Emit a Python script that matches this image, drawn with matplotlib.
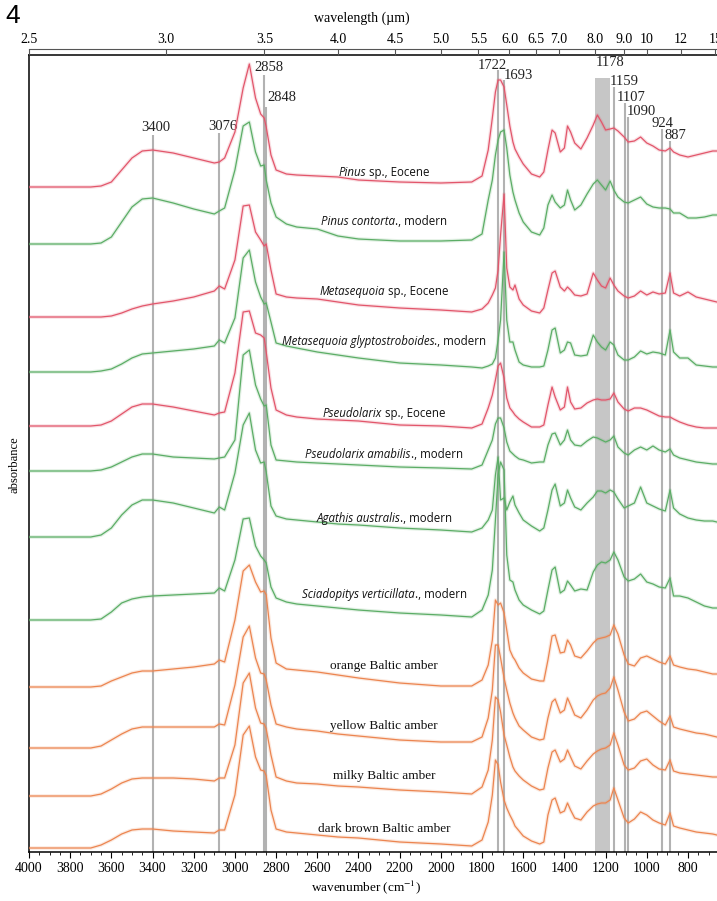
import numpy as np
import matplotlib.pyplot as plt
import matplotlib.patheffects as pe
from matplotlib.ticker import MultipleLocator

plt.rcParams['font.family'] = ['Liberation Serif', 'DejaVu Serif']
plt.rcParams['mathtext.fontset'] = 'stix'

# common wavenumber grid (cm-1) the spectra were read at
wavenumber = [4000, 3700, 3650, 3600, 3550, 3500, 3450, 3400, 3300, 3200,
              3100, 3076, 3050, 3000, 2960, 2930, 2900, 2875, 2858, 2848,
              2825, 2800, 2750, 2700, 2600, 2500, 2400, 2200, 2000, 1850,
              1800, 1770, 1750, 1735, 1722, 1710, 1693, 1680, 1665, 1650,
              1640, 1620, 1600, 1560, 1520, 1500, 1480, 1460, 1445, 1420,
              1400, 1385, 1370, 1350, 1320, 1290, 1260, 1240, 1220, 1200,
              1178, 1160, 1140, 1110, 1090, 1060, 1030, 1000, 970, 940,
              910, 887, 870, 840, 800, 760, 720, 680, 660]

# stacked absorbance (arbitrary units, offsets included)
pinus_eocene = [665, 665, 666, 670, 682, 694, 701, 702, 699, 694,
                689, 690, 694, 720, 764, 788, 754, 738, 734, 725,
                697, 682, 678, 677, 676, 675, 672, 670, 669, 670,
                676, 702, 734, 760, 772, 772, 765, 747, 726, 710,
                703, 695, 688, 678, 675, 680, 702, 722, 719, 700,
                704, 726, 720, 709, 703, 714, 727, 737, 730, 722,
                723, 724, 721, 715, 710, 711, 715, 709, 706, 702,
                701, 704, 700, 697, 695, 697, 699, 701, 701]
pinus_contorta = [608, 608, 609, 615, 630, 645, 653, 654, 649, 643,
                  638, 641, 644, 682, 726, 730, 700, 686, 687, 672,
                  649, 635, 628, 625, 623, 616, 613, 611, 611, 612,
                  618, 652, 672, 697, 712, 720, 722, 704, 677, 660,
                  652, 639, 630, 620, 617, 624, 647, 657, 650, 644,
                  647, 662, 652, 642, 647, 658, 668, 672, 667, 662,
                  671, 662, 655, 650, 649, 652, 655, 648, 645, 644,
                  644, 643, 639, 639, 634, 634, 635, 637, 637]
metasequoia_eocene = [535, 535, 535, 536, 539, 543, 546, 548, 551, 555,
                      561, 566, 563, 592, 646, 647, 620, 612, 606, 608,
                      582, 558, 555, 554, 553, 550, 547, 544, 542, 540,
                      543, 549, 557, 564, 582, 617, 658, 584, 565, 562,
                      567, 553, 547, 541, 539, 544, 562, 579, 581, 565,
                      561, 565, 562, 557, 556, 558, 579, 572, 566, 564,
                      574, 567, 561, 556, 554, 556, 561, 557, 560, 558,
                      559, 579, 559, 556, 560, 555, 553, 551, 550]
metasequoia_glypto = [480, 480, 481, 483, 488, 494, 498, 499, 501, 503,
                      506, 512, 509, 534, 594, 602, 570, 555, 548, 549,
                      530, 509, 506, 504, 500, 497, 494, 489, 487, 485,
                      484, 486, 488, 494, 512, 532, 600, 532, 510, 510,
                      502, 490, 487, 485, 485, 486, 502, 522, 524, 499,
                      502, 510, 509, 497, 496, 497, 517, 510, 505, 502,
                      510, 507, 497, 492, 492, 495, 501, 498, 500, 499,
                      497, 522, 500, 494, 494, 487, 486, 485, 485]
pseudolarix_eocene = [426, 426, 427, 431, 438, 445, 448, 448, 445, 441,
                      437, 439, 440, 479, 540, 541, 519, 517, 514, 500,
                      464, 442, 437, 435, 433, 432, 431, 427, 426, 424,
                      428, 444, 457, 472, 486, 489, 474, 454, 444, 440,
                      437, 433, 430, 425, 425, 427, 447, 465, 455, 442,
                      445, 465, 450, 443, 444, 449, 452, 453, 452, 452,
                      453, 459, 450, 443, 441, 444, 444, 442, 439, 436,
                      435, 435, 433, 430, 427, 425, 424, 424, 424]
pseudolarix_amabilis = [381, 381, 382, 385, 390, 395, 398, 398, 395, 394,
                        393, 394, 395, 412, 497, 502, 467, 453, 446, 447,
                        407, 392, 391, 390, 389, 388, 387, 385, 384, 383,
                        387, 402, 412, 428, 434, 434, 424, 410, 401, 398,
                        396, 393, 392, 389, 390, 390, 407, 418, 419, 407,
                        412, 422, 412, 407, 406, 411, 415, 414, 412, 410,
                        412, 416, 405, 399, 397, 402, 405, 402, 406, 402,
                        400, 403, 397, 394, 392, 390, 389, 388, 388]
agathis = [315, 315, 317, 324, 337, 347, 352, 352, 349, 344,
           339, 345, 342, 379, 427, 439, 402, 389, 390, 380,
           346, 336, 333, 332, 330, 328, 327, 324, 322, 320,
           324, 332, 342, 377, 395, 352, 354, 342, 350, 356,
           347, 339, 332, 326, 321, 324, 342, 362, 368, 346,
           349, 362, 354, 345, 342, 349, 355, 361, 361, 359,
           362, 360, 353, 344, 346, 349, 365, 349, 346, 343,
           341, 362, 344, 338, 334, 332, 331, 331, 330]
sciadopitys = [232, 232, 233, 240, 249, 253, 255, 256, 257, 258,
               259, 264, 261, 292, 333, 334, 306, 296, 292, 289,
               265, 254, 250, 248, 246, 244, 242, 239, 237, 235,
               242, 257, 282, 332, 377, 390, 382, 297, 272, 270,
               262, 252, 247, 242, 238, 241, 262, 282, 285, 259,
               262, 271, 267, 261, 263, 262, 280, 287, 290, 289,
               292, 300, 292, 275, 271, 273, 278, 270, 268, 265,
               264, 274, 256, 256, 254, 250, 246, 244, 244]
orange_amber = [165, 165, 166, 171, 175, 179, 181, 181, 183, 185,
                188, 192, 190, 232, 281, 287, 270, 260, 261, 257,
                214, 189, 183, 182, 180, 177, 174, 169, 166, 166,
                172, 187, 212, 252, 247, 249, 239, 222, 202, 195,
                192, 184, 179, 173, 171, 171, 192, 216, 217, 199,
                200, 212, 207, 196, 194, 201, 209, 213, 214, 215,
                217, 227, 218, 197, 188, 186, 194, 196, 193, 190,
                188, 196, 187, 185, 183, 182, 180, 178, 178]
yellow_amber = [104, 104, 106, 112, 118, 123, 125, 125, 125, 125,
                125, 128, 127, 167, 215, 226, 194, 179, 178, 172,
                147, 128, 125, 123, 121, 118, 116, 112, 110, 110,
                115, 134, 162, 207, 207, 194, 174, 162, 149, 139,
                134, 126, 122, 115, 112, 113, 134, 150, 153, 139,
                142, 154, 147, 137, 134, 142, 152, 156, 158, 159,
                164, 175, 162, 140, 131, 133, 139, 141, 136, 131,
                127, 136, 125, 123, 121, 119, 118, 116, 115]
milky_amber = [56, 56, 58, 63, 69, 73, 74, 74, 74, 73,
               71, 74, 74, 107, 169, 179, 144, 129, 128, 123,
               97, 75, 71, 69, 68, 66, 65, 62, 60, 58,
               65, 82, 112, 155, 152, 140, 117, 107, 95, 85,
               81, 76, 72, 66, 62, 63, 84, 100, 102, 90,
               93, 102, 95, 86, 83, 91, 98, 101, 103, 104,
               107, 119, 107, 87, 82, 84, 91, 93, 87, 83,
               82, 92, 81, 79, 78, 77, 76, 75, 75]
dark_brown_amber = [4, 4, 7, 12, 18, 22, 23, 23, 21, 20,
                    19, 22, 22, 57, 117, 126, 95, 82, 81, 76,
                    42, 23, 20, 19, 17, 15, 14, 10, 8, 6,
                    12, 30, 57, 92, 87, 70, 52, 44, 37, 31,
                    26, 21, 16, 11, 8, 10, 37, 52, 54, 39,
                    41, 49, 42, 34, 32, 40, 46, 48, 49, 49,
                    52, 64, 52, 34, 29, 33, 40, 37, 32, 29,
                    27, 39, 26, 24, 22, 20, 19, 18, 17]

spectra = [pinus_eocene, pinus_contorta, metasequoia_eocene, metasequoia_glypto,
           pseudolarix_eocene, pseudolarix_amabilis, agathis, sciadopitys,
           orange_amber, yellow_amber, milky_amber, dark_brown_amber]

RED, GREEN, ORANGE = '#e2566b', '#5cad66', '#ec8550'
colors = [RED, GREEN, RED, GREEN, RED, GREEN, GREEN, GREEN,
          ORANGE, ORANGE, ORANGE, ORANGE]

label_italic = ['Pinus', 'Pinus contorta', 'Metasequoia', 'Metasequoia glyptostroboides',
                'Pseudolarix', 'Pseudolarix amabilis', 'Agathis australis',
                'Sciadopitys verticillata', '', '', '', '']
label_rest = [' sp., Eocene', '., modern', ' sp., Eocene', '., modern',
              ' sp., Eocene', '., modern', '., modern', '., modern',
              'orange Baltic amber', 'yellow Baltic amber', 'milky Baltic amber',
              'dark brown Baltic amber']
label_y = [680, 631, 561, 511, 439, 398, 334, 258, 186, 126, 76, 23]
label_x = 2275

# marked bands: position, top of line, label text position
peak_wn = [3400, 3076, 2858, 2848, 1722, 1693, 1159, 1107, 1090, 924, 887]
peak_top = [717, 719, 777, 745, 782, 772, 765, 749, 735, 723, 711]
peak_text_x = [3385, 3060, 2837, 2774, 1750, 1624, 1110, 1076, 1027, 925, 862]
peak_text_y = [725, 726, 785, 755, 787, 777, 771, 755, 741, 729, 717]
band_range = (1250, 1178)
band_top = 774

wavelengths = [2.5, 3.0, 3.5, 4.0, 4.5, 5.0, 5.5, 6.0, 6.5, 7.0, 8.0, 9.0, 10, 12, 15]
wavelength_labels = ['2.5', '3.0', '3.5', '4.0', '4.5', '5.0', '5.5', '6.0', '6.5',
                     '7.0', '8.0', '9.0', '10', '12', '15']

for s in spectra:
    if len(s) != len(wavenumber):
        raise ValueError(f"length mismatch {len(s)}")

fig = plt.figure(figsize=(7.17, 9.01), dpi=100)
ax = fig.add_axes([29 / 717, 1 - 852 / 901, 1 - 29 / 717, (852 - 55) / 901])

# grey marker band and lines
ax.fill_betweenx([0, band_top], band_range[0], band_range[1], color='#c6c6c6',
                 lw=0, zorder=1)
ax.vlines(peak_wn, 0, peak_top, color='#b2b2b2', lw=1.5, zorder=1)
for wn, tx, ty in zip(peak_wn, peak_text_x, peak_text_y):
    ax.text(tx, ty, str(wn), ha='center', va='center', fontsize=10.5, color='#222222')
ax.text(band_range[1] + 2, 790, str(band_range[1]), ha='center', va='center',
        fontsize=10.5, color='#222222')

for values, c in zip(spectra, colors):
    ax.plot(wavenumber, values, color=c, lw=0.9, zorder=3,
            path_effects=[pe.Stroke(linewidth=2.6, foreground=c, alpha=0.18), pe.Normal()])

# species labels (italic genus part + plain rest), centred later
pairs = []
for it, rest, y in zip(label_italic, label_rest, label_y):
    if it:
        t1 = ax.text(label_x, y, it, style='italic', ha='left', va='bottom',
                     fontsize=8.3, family='Open Sans', color='#111111', zorder=4)
        t2 = ax.annotate(rest, xy=(1, 0), xycoords=t1, ha='left', va='bottom',
                         fontsize=8.3, family='Open Sans', color='#111111', zorder=4)
        pairs.append((t1, t2, y))
    else:
        ax.text(label_x, y, rest, ha='center', va='center', fontsize=9.5,
                color='#111111', zorder=4)

ax.set_xlim(4000, 659)
ax.set_ylim(0, 797)
ax.set_yticks([])
ax.spines['right'].set_visible(False)
for sp in ['left', 'bottom', 'top']:
    ax.spines[sp].set_linewidth(1.1)
ax.set_xticks(np.arange(800, 4001, 200))
ax.xaxis.set_minor_locator(MultipleLocator(50))
ax.tick_params(axis='x', which='major', direction='out', length=4, width=0.8,
               labelsize=10, pad=3)
ax.tick_params(axis='x', which='minor', direction='out', length=2.2, width=0.6)

# wavelength axis on top
ax_top = ax.twiny()
ax_top.set_xlim(ax.get_xlim())
ax_top.set_xticks([1e4 / w for w in wavelengths])
ax_top.set_xticklabels(wavelength_labels)
for sp in ['left', 'right', 'bottom']:
    ax_top.spines[sp].set_visible(False)
ax_top.spines['top'].set_position(('outward', 4.3))
ax_top.spines['top'].set_linewidth(0.8)
ax_top.spines['top'].set_color('#555555')
ax_top.tick_params(axis='x', direction='in', length=4.3, width=0.8, labelsize=10,
                   pad=2, color='#555555')

fig.text(362 / 717, 1 - 18 / 901, 'wavelength (\u00b5m)', ha='center', va='center',
         fontsize=10)
fig.text(366 / 717, 1 - 887 / 901, 'wavenumber (cm$^{-1}$)', ha='center', va='center',
         fontsize=9.5)
fig.text(14 / 717, 1 - 465 / 901, 'absorbance', rotation=90, ha='center', va='center',
         fontsize=9)
fig.text(5 / 717, 1 - 16 / 901, '4', ha='left', va='center', fontsize=19,
         family='Liberation Sans')

# centre the two-part labels
fig.canvas.draw()
renderer = fig.canvas.get_renderer()
for t1, t2, y in pairs:
    b1 = t1.get_window_extent(renderer)
    b2 = t2.get_window_extent(renderer)
    width = b2.x1 - b1.x0
    cx, cy = ax.transData.transform((label_x, y))
    h = b1.height
    new_x, new_y = ax.transData.inverted().transform((cx - width / 2, cy - h / 2))
    t1.set_position((new_x, new_y))

fig.savefig('out.png', dpi=100)
